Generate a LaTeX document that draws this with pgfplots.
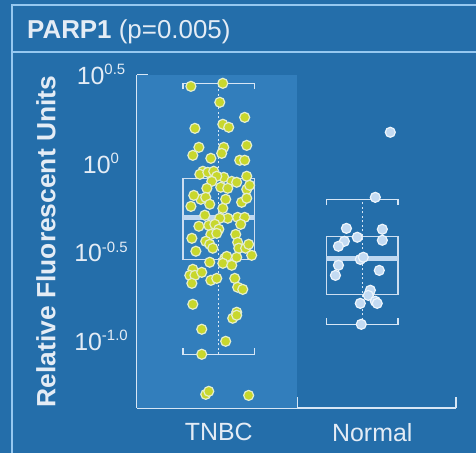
\documentclass[border=0pt]{standalone}
\usepackage{pgfplots}
\pgfplotsset{compat=1.18}
\usepgfplotslibrary{statistics}
\usepackage{fontspec}
\setmainfont{Liberation Sans}
\definecolor{bg}{RGB}{36,110,170}
\definecolor{panel}{RGB}{50,126,188}
\definecolor{frame}{RGB}{150,200,240}
\definecolor{axcol}{RGB}{215,230,245}
\definecolor{txt}{RGB}{228,236,245}
\definecolor{boxcol}{RGB}{205,222,240}
\definecolor{medcol}{RGB}{190,215,240}
\definecolor{tnbc}{RGB}{200,215,45}
\definecolor{tnbcedge}{RGB}{228,238,205}
\definecolor{normfill}{RGB}{195,218,242}
\definecolor{normedge}{RGB}{238,245,252}
\newcommand{\tl}[1]{10\raisebox{9.5bp}{\fontsize{15}{15}\selectfont #1}}
\begin{document}
\begin{tikzpicture}[x=1bp,y=1bp]
\fill[bg] (0,0) rectangle (476,453);
\draw[frame, line width=2bp] (12,0) -- (12,448) -- (476,448);
\draw[frame, line width=2bp] (12,401) -- (476,401);
\begin{axis}[
  at={(137bp,45bp)}, anchor=south west,
  width=319bp, height=333bp, scale only axis,
  xmin=0.5, xmax=2.5, ymin=-1.376, ymax=0.502,
  axis lines=left,
  axis line style={-, draw=axcol, line width=2bp},
  tick align=inside,
  major tick length=11bp,
  tick style={draw=axcol, line width=2bp},
  ytick={-1,-0.5,0,0.5},
  yticklabels={\tl{-1.0},\tl{-0.5},\tl{0},\tl{0.5}},
  yticklabel style={anchor=base, inner sep=0pt, xshift=-36bp, yshift=-9bp},
  xtick={1.5,2.5},
  xticklabels={,},
  extra x ticks={1.0125,1.975},
  extra x tick labels={TNBC,Normal},
  extra x tick style={grid=none, major tick length=0pt,
    xticklabel style={anchor=north, inner sep=0pt, yshift=-15bp}},
  ticklabel style={text=txt, font=\fontsize{25}{25}\selectfont},
  ylabel={Relative Fluorescent Units},
  ylabel style={at={(axis description cs:-0.2853,0.5)}, rotate=0, anchor=center,
    inner sep=0pt, text=txt, font=\fontsize{26.5}{26.5}\selectfont\bfseries},
  title={\textbf{PARP1} (p=0.005)},
  title style={at={(axis description cs:0,1)}, anchor=base west, inner sep=0pt,
    xshift=-110bp, yshift=31bp, text=txt, font=\fontsize{26}{26}\selectfont},
  clip=false,
  boxplot/draw direction=y,
  boxplot/draw/lower whisker/.code={%
    \draw[axcol, line width=1.5bp, dash pattern=on 2bp off 2.5bp]
      (boxplot box cs:\pgfplotsboxplotvalue{lower whisker},0.5) --
      (boxplot box cs:\pgfplotsboxplotvalue{median},0.5);
    \draw[axcol, line width=1.5bp]
      (boxplot box cs:\pgfplotsboxplotvalue{lower whisker},0) ++(0pt,6bp) -- ++(0pt,-6bp) --
      (boxplot box cs:\pgfplotsboxplotvalue{lower whisker},1) -- ++(0pt,6bp);
  },
  boxplot/draw/upper whisker/.code={%
    \draw[axcol, line width=1.5bp, dash pattern=on 2bp off 2.5bp]
      (boxplot box cs:\pgfplotsboxplotvalue{median},0.5) --
      (boxplot box cs:\pgfplotsboxplotvalue{upper whisker},0.5);
    \draw[axcol, line width=1.5bp]
      (boxplot box cs:\pgfplotsboxplotvalue{upper whisker},0) ++(0pt,-6bp) -- ++(0pt,6bp) --
      (boxplot box cs:\pgfplotsboxplotvalue{upper whisker},1) -- ++(0pt,-6bp);
  },
  boxplot/every median/.style={draw=medcol, line width=5bp},
  boxplot/every box/.style={draw=boxcol, line width=1.5bp, fill=none},
]
\fill[panel] (axis cs:0.5,-1.376) rectangle (axis cs:1.5,0.502);

\addplot[draw=boxcol, boxplot prepared={draw position=1.0125, box extend=0.45,
  lower whisker=-1.073, lower quartile=-0.538, median=-0.301,
  upper quartile=-0.081, upper whisker=0.455}] coordinates {};
\addplot[draw=boxcol, boxplot prepared={draw position=1.9125, box extend=0.45,
  lower whisker=-0.904, lower quartile=-0.735, median=-0.532,
  upper quartile=-0.408, upper whisker=-0.199}] coordinates {};

\addplot[only marks, mark=*, mark size=5bp,
  mark options={fill=tnbc, draw=tnbcedge, line width=1.2bp}] table {
x y
0.838 0.438
1.038 0.455
1.019 0.348
1.175 0.263
0.863 0.201
1.038 0.224
1.075 0.207
0.888 0.094
1.044 0.094
1.188 0.105
0.850 0.049
1.031 0.060
0.963 0.032
1.144 0.021
1.175 0.021
0.913 -0.041
0.894 -0.058
0.944 -0.047
0.981 -0.041
1.044 -0.075
1.000 -0.069
1.188 -0.069
0.969 -0.098
1.094 -0.098
1.125 -0.103
0.938 -0.137
1.025 -0.131
1.069 -0.137
1.188 -0.143
1.206 -0.120
0.838 -0.239
0.900 -0.199
0.931 -0.188
1.056 -0.199
1.156 -0.216
1.188 -0.193
1.038 -0.250
0.925 -0.289
1.069 -0.306
1.019 -0.306
1.131 -0.301
1.175 -0.301
0.888 -0.351
0.950 -0.346
0.988 -0.340
1.150 -0.340
1.013 -0.368
0.963 -0.397
1.000 -0.391
1.119 -0.397
0.844 -0.419
0.931 -0.436
0.956 -0.453
1.131 -0.442
0.869 -0.492
0.975 -0.475
1.138 -0.475
1.181 -0.475
1.200 -0.453
0.956 -0.554
1.050 -0.532
1.063 -0.521
1.038 -0.560
1.094 -0.571
1.125 -0.526
1.219 -0.515
0.850 -0.594
0.831 -0.628
0.863 -0.628
0.906 -0.611
0.844 -0.673
0.963 -0.656
1.000 -0.645
1.113 -0.645
1.131 -0.695
1.163 -0.707
0.850 -0.791
1.125 -0.836
1.100 -0.870
1.125 -0.853
0.906 -0.932
1.056 -1.000
0.906 -1.073
0.931 -1.299
0.950 -1.282
1.200 -1.305
0.856 -0.177
0.956 -0.227
};

\addplot[only marks, mark=*, mark size=5bp,
  mark options={fill=normfill, draw=normedge, line width=1.2bp}] table {
x y
2.088 0.179
1.994 -0.188
1.813 -0.363
2.038 -0.368
1.881 -0.413
1.800 -0.436
1.763 -0.464
2.038 -0.430
1.900 -0.538
1.919 -0.526
1.763 -0.571
1.744 -0.628
2.019 -0.600
1.963 -0.712
1.950 -0.741
1.994 -0.774
2.006 -0.786
1.900 -0.786
1.906 -0.904
};
\end{axis}
\pgfresetboundingbox
\useasboundingbox (0,0) rectangle (476,453);
\end{tikzpicture}
\end{document}
